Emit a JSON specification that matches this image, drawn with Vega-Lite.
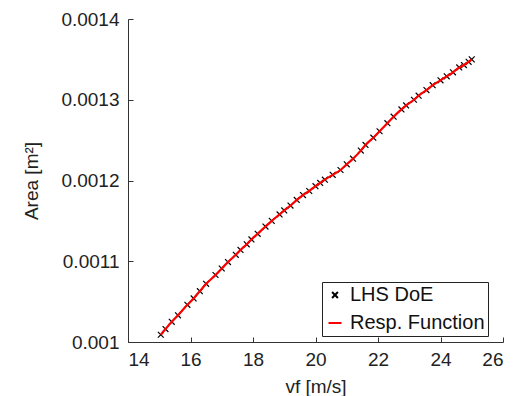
{
  "$schema": "https://vega.github.io/schema/vega-lite/v6.json",
  "width": 375,
  "height": 323,
  "autosize": "none",
  "padding": {"left": 128, "top": 19, "right": 12, "bottom": 54},
  "background": "white",
  "config": {
    "view": {"stroke": null},
    "font": "Liberation Sans",
    "axis": {
      "grid": false,
      "domainColor": "#333333",
      "tickColor": "#333333",
      "tickSize": -5,
      "labelFont": "Liberation Sans",
      "labelFontSize": 19,
      "labelColor": "#222222",
      "titleFont": "Liberation Sans",
      "titleFontSize": 19,
      "titleFontWeight": "normal",
      "titleColor": "#222222"
    }
  },
  "data": {
    "values": [
      {"vf": 15.05, "area": 0.001009, "series": "LHS DoE"},
      {"vf": 15.2, "area": 0.001016, "series": "LHS DoE"},
      {"vf": 15.4, "area": 0.001025, "series": "LHS DoE"},
      {"vf": 15.6, "area": 0.001033, "series": "LHS DoE"},
      {"vf": 15.9, "area": 0.001046, "series": "LHS DoE"},
      {"vf": 16.1, "area": 0.001054, "series": "LHS DoE"},
      {"vf": 16.3, "area": 0.001063, "series": "LHS DoE"},
      {"vf": 16.5, "area": 0.001072, "series": "LHS DoE"},
      {"vf": 16.8, "area": 0.001083, "series": "LHS DoE"},
      {"vf": 17.0, "area": 0.001091, "series": "LHS DoE"},
      {"vf": 17.2, "area": 0.001099, "series": "LHS DoE"},
      {"vf": 17.45, "area": 0.001108, "series": "LHS DoE"},
      {"vf": 17.6, "area": 0.001114, "series": "LHS DoE"},
      {"vf": 17.8, "area": 0.001121, "series": "LHS DoE"},
      {"vf": 17.95, "area": 0.001127, "series": "LHS DoE"},
      {"vf": 18.15, "area": 0.001134, "series": "LHS DoE"},
      {"vf": 18.4, "area": 0.001143, "series": "LHS DoE"},
      {"vf": 18.6, "area": 0.00115, "series": "LHS DoE"},
      {"vf": 18.85, "area": 0.001158, "series": "LHS DoE"},
      {"vf": 19.0, "area": 0.001163, "series": "LHS DoE"},
      {"vf": 19.2, "area": 0.001169, "series": "LHS DoE"},
      {"vf": 19.4, "area": 0.001176, "series": "LHS DoE"},
      {"vf": 19.6, "area": 0.001182, "series": "LHS DoE"},
      {"vf": 19.8, "area": 0.001187, "series": "LHS DoE"},
      {"vf": 20.0, "area": 0.001193, "series": "LHS DoE"},
      {"vf": 20.15, "area": 0.001197, "series": "LHS DoE"},
      {"vf": 20.3, "area": 0.001201, "series": "LHS DoE"},
      {"vf": 20.55, "area": 0.001207, "series": "LHS DoE"},
      {"vf": 20.8, "area": 0.001213, "series": "LHS DoE"},
      {"vf": 21.0, "area": 0.00122, "series": "LHS DoE"},
      {"vf": 21.2, "area": 0.001227, "series": "LHS DoE"},
      {"vf": 21.45, "area": 0.001237, "series": "LHS DoE"},
      {"vf": 21.6, "area": 0.001244, "series": "LHS DoE"},
      {"vf": 21.85, "area": 0.001253, "series": "LHS DoE"},
      {"vf": 22.05, "area": 0.001261, "series": "LHS DoE"},
      {"vf": 22.3, "area": 0.001271, "series": "LHS DoE"},
      {"vf": 22.5, "area": 0.001279, "series": "LHS DoE"},
      {"vf": 22.75, "area": 0.001288, "series": "LHS DoE"},
      {"vf": 22.9, "area": 0.001293, "series": "LHS DoE"},
      {"vf": 23.15, "area": 0.0013, "series": "LHS DoE"},
      {"vf": 23.3, "area": 0.001305, "series": "LHS DoE"},
      {"vf": 23.55, "area": 0.001312, "series": "LHS DoE"},
      {"vf": 23.75, "area": 0.001318, "series": "LHS DoE"},
      {"vf": 24.0, "area": 0.001324, "series": "LHS DoE"},
      {"vf": 24.2, "area": 0.001329, "series": "LHS DoE"},
      {"vf": 24.4, "area": 0.001334, "series": "LHS DoE"},
      {"vf": 24.6, "area": 0.00134, "series": "LHS DoE"},
      {"vf": 24.75, "area": 0.001343, "series": "LHS DoE"},
      {"vf": 24.9, "area": 0.001347, "series": "LHS DoE"},
      {"vf": 25.0, "area": 0.00135, "series": "LHS DoE"}
    ]
  },
  "encoding": {
    "x": {
      "field": "vf", "type": "quantitative",
      "scale": {"domain": [14, 26], "nice": false, "zero": false},
      "axis": {"values": [14, 16, 18, 20, 22, 24, 26], "title": "vf [m/s]", "labelPadding": 13, "titlePadding": 8}
    },
    "y": {
      "field": "area", "type": "quantitative",
      "scale": {"domain": [0.001, 0.0014], "nice": false, "zero": false},
      "axis": {"values": [0.001, 0.0011, 0.0012, 0.0013, 0.0014], "format": "~g", "title": "Area [m²]", "labelPadding": 14, "titlePadding": 19}
    }
  },
  "layer": [
    {
      "mark": {"type": "point", "filled": false, "size": 169, "strokeWidth": 1.2, "opacity": 1},
      "encoding": {
        "color": {
          "field": "series", "type": "nominal",
          "scale": {"domain": ["LHS DoE", "Resp. Function"], "range": ["black", "red"]},
          "legend": {
            "title": null, "orient": "none", "legendX": 194, "legendY": 263,
            "strokeColor": "#222222", "fillColor": "white", "padding": 3,
            "labelFont": "Liberation Sans", "labelFontSize": 20, "labelColor": "#111111",
            "symbolSize": 169, "symbolStrokeWidth": 2, "labelOffset": 5, "rowPadding": 8,
            "labelLimit": 300
          }
        },
        "shape": {
          "field": "series", "type": "nominal",
          "scale": {"domain": ["LHS DoE", "Resp. Function"], "range": ["M-0.45,-0.45L0.45,0.45M-0.45,0.45L0.45,-0.45", "M-1,0L1,0"]},
          "legend": {
            "title": null, "orient": "none", "legendX": 194, "legendY": 263,
            "strokeColor": "#222222", "fillColor": "white", "padding": 3,
            "labelFont": "Liberation Sans", "labelFontSize": 20, "labelColor": "#111111",
            "symbolSize": 169, "symbolStrokeWidth": 2, "labelOffset": 5, "rowPadding": 8,
            "labelLimit": 300
          }
        }
      }
    },
    {
      "mark": {"type": "line", "color": "red", "strokeWidth": 2.2, "interpolate": "monotone"},
      "encoding": {}
    }
  ]
}
